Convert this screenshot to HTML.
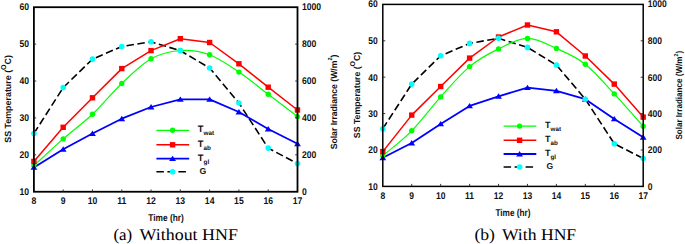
<!DOCTYPE html>
<html><head><meta charset="utf-8"><style>
html,body{margin:0;padding:0;background:#fff;}
body{width:685px;height:244px;overflow:hidden;}
svg{display:block;} text{text-rendering:geometricPrecision;}
.tk{font-family:"Liberation Sans",sans-serif;font-weight:bold;fill:#111;}
.ax{font-family:"Liberation Sans",sans-serif;font-weight:bold;fill:#111;}
.lg{font-family:"Liberation Sans",sans-serif;font-weight:bold;fill:#111;}
.cap{font-family:"Liberation Serif",serif;fill:#000;}
</style></head><body>
<svg width="685" height="244" viewBox="0 0 685 244">
<rect width="685" height="244" fill="#fff"/>
<path d="M33.90,133.50 L63.19,87.60 L92.48,59.10 L121.77,46.50 L151.06,41.80 L180.34,50.70 L209.63,68.00 L238.92,103.00 L268.21,148.10 L297.50,163.60" fill="none" stroke="#000" stroke-width="1.6" stroke-dasharray="7.5 3.5" stroke-linejoin="round"/>
<path d="M33.90,165.60 C38.78,161.15 53.43,147.47 63.19,138.90 C72.95,130.33 82.71,123.43 92.48,114.20 C102.24,104.97 112.00,92.73 121.77,83.50 C131.53,74.27 141.29,64.30 151.06,58.80 C160.82,53.30 170.58,51.18 180.34,50.50 C190.11,49.82 199.87,51.10 209.63,54.70 C219.40,58.30 229.16,65.50 238.92,72.10 C248.69,78.70 258.45,86.88 268.21,94.30 C277.97,101.72 292.62,112.88 297.50,116.60" fill="none" stroke="#00ff00" stroke-width="1.2"/>
<path d="M33.90,161.40 L63.19,127.30 L92.48,97.80 L121.77,68.60 L151.06,50.60 L180.34,38.70 L209.63,42.50 L238.92,63.80 L268.21,87.20 L297.50,110.00" fill="none" stroke="#ff0000" stroke-width="1.5" stroke-linejoin="round"/>
<path d="M33.90,167.40 L63.19,149.30 L92.48,133.50 L121.77,118.70 L151.06,107.00 L180.34,99.40 L209.63,99.40 L238.92,112.00 L268.21,129.00 L297.50,143.70" fill="none" stroke="#0000ff" stroke-width="1.8" stroke-linejoin="round"/>
<circle cx="33.90" cy="165.60" r="2.70" fill="#00ff00"/>
<circle cx="63.19" cy="138.90" r="2.70" fill="#00ff00"/>
<circle cx="92.48" cy="114.20" r="2.70" fill="#00ff00"/>
<circle cx="121.77" cy="83.50" r="2.70" fill="#00ff00"/>
<circle cx="151.06" cy="58.80" r="2.70" fill="#00ff00"/>
<circle cx="180.34" cy="50.50" r="2.70" fill="#00ff00"/>
<circle cx="209.63" cy="54.70" r="2.70" fill="#00ff00"/>
<circle cx="238.92" cy="72.10" r="2.70" fill="#00ff00"/>
<circle cx="268.21" cy="94.30" r="2.70" fill="#00ff00"/>
<circle cx="297.50" cy="116.60" r="2.70" fill="#00ff00"/>
<rect x="31.20" y="158.70" width="5.40" height="5.40" fill="#ff0000"/>
<rect x="60.49" y="124.60" width="5.40" height="5.40" fill="#ff0000"/>
<rect x="89.78" y="95.10" width="5.40" height="5.40" fill="#ff0000"/>
<rect x="119.07" y="65.90" width="5.40" height="5.40" fill="#ff0000"/>
<rect x="148.36" y="47.90" width="5.40" height="5.40" fill="#ff0000"/>
<rect x="177.64" y="36.00" width="5.40" height="5.40" fill="#ff0000"/>
<rect x="206.93" y="39.80" width="5.40" height="5.40" fill="#ff0000"/>
<rect x="236.22" y="61.10" width="5.40" height="5.40" fill="#ff0000"/>
<rect x="265.51" y="84.50" width="5.40" height="5.40" fill="#ff0000"/>
<rect x="294.80" y="107.30" width="5.40" height="5.40" fill="#ff0000"/>
<path d="M33.90,164.43 L37.30,169.83 L30.50,169.83Z" fill="#0000ff"/>
<path d="M63.19,146.33 L66.59,151.73 L59.79,151.73Z" fill="#0000ff"/>
<path d="M92.48,130.53 L95.88,135.93 L89.08,135.93Z" fill="#0000ff"/>
<path d="M121.77,115.73 L125.17,121.13 L118.37,121.13Z" fill="#0000ff"/>
<path d="M151.06,104.03 L154.46,109.43 L147.66,109.43Z" fill="#0000ff"/>
<path d="M180.34,96.43 L183.74,101.83 L176.94,101.83Z" fill="#0000ff"/>
<path d="M209.63,96.43 L213.03,101.83 L206.23,101.83Z" fill="#0000ff"/>
<path d="M238.92,109.03 L242.32,114.43 L235.52,114.43Z" fill="#0000ff"/>
<path d="M268.21,126.03 L271.61,131.43 L264.81,131.43Z" fill="#0000ff"/>
<path d="M297.50,140.73 L300.90,146.13 L294.10,146.13Z" fill="#0000ff"/>
<circle cx="33.90" cy="133.50" r="2.80" fill="#00ffff"/>
<circle cx="63.19" cy="87.60" r="2.80" fill="#00ffff"/>
<circle cx="92.48" cy="59.10" r="2.80" fill="#00ffff"/>
<circle cx="121.77" cy="46.50" r="2.80" fill="#00ffff"/>
<circle cx="151.06" cy="41.80" r="2.80" fill="#00ffff"/>
<circle cx="180.34" cy="50.70" r="2.80" fill="#00ffff"/>
<circle cx="209.63" cy="68.00" r="2.80" fill="#00ffff"/>
<circle cx="238.92" cy="103.00" r="2.80" fill="#00ffff"/>
<circle cx="268.21" cy="148.10" r="2.80" fill="#00ffff"/>
<circle cx="297.50" cy="163.60" r="2.80" fill="#00ffff"/>
<rect x="33.90" y="7.20" width="263.60" height="184.55" fill="none" stroke="#000" stroke-width="1.8"/>
<line x1="63.19" y1="191.75" x2="63.19" y2="189.45" stroke="#222" stroke-width="0.9"/>
<line x1="92.48" y1="191.75" x2="92.48" y2="189.45" stroke="#222" stroke-width="0.9"/>
<line x1="121.77" y1="191.75" x2="121.77" y2="189.45" stroke="#222" stroke-width="0.9"/>
<line x1="151.06" y1="191.75" x2="151.06" y2="189.45" stroke="#222" stroke-width="0.9"/>
<line x1="180.34" y1="191.75" x2="180.34" y2="189.45" stroke="#222" stroke-width="0.9"/>
<line x1="209.63" y1="191.75" x2="209.63" y2="189.45" stroke="#222" stroke-width="0.9"/>
<line x1="238.92" y1="191.75" x2="238.92" y2="189.45" stroke="#222" stroke-width="0.9"/>
<line x1="268.21" y1="191.75" x2="268.21" y2="189.45" stroke="#222" stroke-width="0.9"/>
<line x1="33.90" y1="154.84" x2="36.20" y2="154.84" stroke="#222" stroke-width="0.9"/>
<line x1="297.50" y1="154.84" x2="295.20" y2="154.84" stroke="#222" stroke-width="0.9"/>
<line x1="33.90" y1="117.93" x2="36.20" y2="117.93" stroke="#222" stroke-width="0.9"/>
<line x1="297.50" y1="117.93" x2="295.20" y2="117.93" stroke="#222" stroke-width="0.9"/>
<line x1="33.90" y1="81.02" x2="36.20" y2="81.02" stroke="#222" stroke-width="0.9"/>
<line x1="297.50" y1="81.02" x2="295.20" y2="81.02" stroke="#222" stroke-width="0.9"/>
<line x1="33.90" y1="44.11" x2="36.20" y2="44.11" stroke="#222" stroke-width="0.9"/>
<line x1="297.50" y1="44.11" x2="295.20" y2="44.11" stroke="#222" stroke-width="0.9"/>
<text transform="translate(33.90,203.90) scale(0.89,1)" text-anchor="middle" class="tk" font-size="9.7">8</text>
<text transform="translate(63.19,203.90) scale(0.89,1)" text-anchor="middle" class="tk" font-size="9.7">9</text>
<text transform="translate(92.48,203.90) scale(0.89,1)" text-anchor="middle" class="tk" font-size="9.7">10</text>
<text transform="translate(121.77,203.90) scale(0.89,1)" text-anchor="middle" class="tk" font-size="9.7">11</text>
<text transform="translate(151.06,203.90) scale(0.89,1)" text-anchor="middle" class="tk" font-size="9.7">12</text>
<text transform="translate(180.34,203.90) scale(0.89,1)" text-anchor="middle" class="tk" font-size="9.7">13</text>
<text transform="translate(209.63,203.90) scale(0.89,1)" text-anchor="middle" class="tk" font-size="9.7">14</text>
<text transform="translate(238.92,203.90) scale(0.89,1)" text-anchor="middle" class="tk" font-size="9.7">15</text>
<text transform="translate(268.21,203.90) scale(0.89,1)" text-anchor="middle" class="tk" font-size="9.7">16</text>
<text transform="translate(297.50,203.90) scale(0.89,1)" text-anchor="middle" class="tk" font-size="9.7">17</text>
<text transform="translate(29.10,195.05) scale(0.89,1)" text-anchor="end" class="tk" font-size="9.7">10</text>
<text transform="translate(29.10,158.14) scale(0.89,1)" text-anchor="end" class="tk" font-size="9.7">20</text>
<text transform="translate(29.10,121.23) scale(0.89,1)" text-anchor="end" class="tk" font-size="9.7">30</text>
<text transform="translate(29.10,84.32) scale(0.89,1)" text-anchor="end" class="tk" font-size="9.7">40</text>
<text transform="translate(29.10,47.41) scale(0.89,1)" text-anchor="end" class="tk" font-size="9.7">50</text>
<text transform="translate(29.10,10.10) scale(0.89,1)" text-anchor="end" class="tk" font-size="9.7">60</text>
<text transform="translate(301.90,195.05) scale(0.89,1)" text-anchor="start" class="tk" font-size="9.7">0</text>
<text transform="translate(301.90,158.14) scale(0.89,1)" text-anchor="start" class="tk" font-size="9.7">200</text>
<text transform="translate(301.90,121.23) scale(0.89,1)" text-anchor="start" class="tk" font-size="9.7">400</text>
<text transform="translate(301.90,84.32) scale(0.89,1)" text-anchor="start" class="tk" font-size="9.7">600</text>
<text transform="translate(301.90,47.41) scale(0.89,1)" text-anchor="start" class="tk" font-size="9.7">800</text>
<text transform="translate(301.90,9.50) scale(0.89,1)" text-anchor="start" class="tk" font-size="9.7">1000</text>
<text transform="translate(10.70,142.80) rotate(-90)" class="ax" font-size="9.0" textLength="87.80" lengthAdjust="spacingAndGlyphs">SS Temperature (<tspan font-size="7.20" dy="-5.1">O</tspan><tspan dy="5.1">C)</tspan></text>
<text transform="translate(337.10,149.30) rotate(-90)" class="ax" font-size="9.0" textLength="94.70" lengthAdjust="spacingAndGlyphs">Solar Irradiance (W/m<tspan font-size="5.85" dy="-5.4">2</tspan><tspan dy="5.4">)</tspan></text>
<text x="148.30" y="221.20" class="ax" font-size="9.8" textLength="35.50" lengthAdjust="spacingAndGlyphs">Time (hr)</text>
<line x1="156.40" y1="130.30" x2="189.20" y2="130.30" stroke="#00ff00" stroke-width="1.2"/>
<circle cx="172.60" cy="130.30" r="2.70" fill="#00ff00"/>
<text x="197.80" y="132.30" class="lg" font-size="9.3">T<tspan font-size="6.4" dy="3.0">wat</tspan></text>
<line x1="156.40" y1="144.80" x2="189.20" y2="144.80" stroke="#ff0000" stroke-width="1.5"/>
<rect x="169.90" y="142.10" width="5.40" height="5.40" fill="#ff0000"/>
<text x="197.80" y="146.80" class="lg" font-size="9.3">T<tspan font-size="6.4" dy="3.0">ab</tspan></text>
<line x1="156.40" y1="158.60" x2="189.20" y2="158.60" stroke="#0000ff" stroke-width="1.8"/>
<path d="M172.60,155.63 L176.00,161.03 L169.20,161.03Z" fill="#0000ff"/>
<text x="197.80" y="160.60" class="lg" font-size="9.3">T<tspan font-size="6.4" dy="3.0">gl</tspan></text>
<line x1="156.40" y1="171.80" x2="186.20" y2="171.80" stroke="#000" stroke-width="1.6" stroke-dasharray="7.5 3.5"/>
<circle cx="172.60" cy="171.80" r="2.80" fill="#00ffff"/>
<text x="199.60" y="174.00" class="lg" font-size="8.7">G</text>
<text x="113.40" y="239.80" class="cap" font-size="16.5" textLength="18.80" lengthAdjust="spacingAndGlyphs">(a)</text>
<text x="139.60" y="239.80" class="cap" font-size="16.5" textLength="98.30" lengthAdjust="spacingAndGlyphs">Without HNF</text>
<path d="M382.80,128.70 L411.73,84.10 L440.67,55.80 L469.60,43.40 L498.53,38.30 L527.47,47.40 L556.40,65.00 L585.33,99.20 L614.27,143.70 L643.20,158.50" fill="none" stroke="#000" stroke-width="1.6" stroke-dasharray="7.5 3.5" stroke-linejoin="round"/>
<path d="M382.80,155.70 C387.62,151.55 402.09,140.60 411.73,130.80 C421.38,121.00 431.02,107.60 440.67,96.90 C450.31,86.20 459.96,74.60 469.60,66.60 C479.24,58.60 488.89,53.60 498.53,48.90 C508.18,44.20 517.82,38.48 527.47,38.40 C537.11,38.32 546.76,44.10 556.40,48.40 C566.04,52.70 575.69,56.62 585.33,64.20 C594.98,71.78 604.62,83.55 614.27,93.90 C623.91,104.25 638.38,120.90 643.20,126.30" fill="none" stroke="#00ff00" stroke-width="1.2"/>
<path d="M382.80,151.60 L411.73,115.10 L440.67,86.50 L469.60,58.10 L498.53,37.00 L527.47,25.00 L556.40,31.80 L585.33,56.00 L614.27,84.10 L643.20,117.10" fill="none" stroke="#ff0000" stroke-width="1.5" stroke-linejoin="round"/>
<path d="M382.80,157.80 L411.73,143.00 L440.67,123.90 L469.60,105.90 L498.53,96.30 L527.47,87.60 L556.40,90.80 L585.33,99.20 L614.27,118.90 L643.20,137.30" fill="none" stroke="#0000ff" stroke-width="1.8" stroke-linejoin="round"/>
<circle cx="382.80" cy="155.70" r="2.70" fill="#00ff00"/>
<circle cx="411.73" cy="130.80" r="2.70" fill="#00ff00"/>
<circle cx="440.67" cy="96.90" r="2.70" fill="#00ff00"/>
<circle cx="469.60" cy="66.60" r="2.70" fill="#00ff00"/>
<circle cx="498.53" cy="48.90" r="2.70" fill="#00ff00"/>
<circle cx="527.47" cy="38.40" r="2.70" fill="#00ff00"/>
<circle cx="556.40" cy="48.40" r="2.70" fill="#00ff00"/>
<circle cx="585.33" cy="64.20" r="2.70" fill="#00ff00"/>
<circle cx="614.27" cy="93.90" r="2.70" fill="#00ff00"/>
<circle cx="643.20" cy="126.30" r="2.70" fill="#00ff00"/>
<rect x="380.10" y="148.90" width="5.40" height="5.40" fill="#ff0000"/>
<rect x="409.03" y="112.40" width="5.40" height="5.40" fill="#ff0000"/>
<rect x="437.97" y="83.80" width="5.40" height="5.40" fill="#ff0000"/>
<rect x="466.90" y="55.40" width="5.40" height="5.40" fill="#ff0000"/>
<rect x="495.83" y="34.30" width="5.40" height="5.40" fill="#ff0000"/>
<rect x="524.77" y="22.30" width="5.40" height="5.40" fill="#ff0000"/>
<rect x="553.70" y="29.10" width="5.40" height="5.40" fill="#ff0000"/>
<rect x="582.63" y="53.30" width="5.40" height="5.40" fill="#ff0000"/>
<rect x="611.57" y="81.40" width="5.40" height="5.40" fill="#ff0000"/>
<rect x="640.50" y="114.40" width="5.40" height="5.40" fill="#ff0000"/>
<path d="M382.80,154.83 L386.20,160.23 L379.40,160.23Z" fill="#0000ff"/>
<path d="M411.73,140.03 L415.13,145.43 L408.33,145.43Z" fill="#0000ff"/>
<path d="M440.67,120.93 L444.07,126.33 L437.27,126.33Z" fill="#0000ff"/>
<path d="M469.60,102.93 L473.00,108.33 L466.20,108.33Z" fill="#0000ff"/>
<path d="M498.53,93.33 L501.93,98.73 L495.13,98.73Z" fill="#0000ff"/>
<path d="M527.47,84.63 L530.87,90.03 L524.07,90.03Z" fill="#0000ff"/>
<path d="M556.40,87.83 L559.80,93.23 L553.00,93.23Z" fill="#0000ff"/>
<path d="M585.33,96.23 L588.73,101.63 L581.93,101.63Z" fill="#0000ff"/>
<path d="M614.27,115.93 L617.67,121.33 L610.87,121.33Z" fill="#0000ff"/>
<path d="M643.20,134.33 L646.60,139.73 L639.80,139.73Z" fill="#0000ff"/>
<circle cx="382.80" cy="128.70" r="2.80" fill="#00ffff"/>
<circle cx="411.73" cy="84.10" r="2.80" fill="#00ffff"/>
<circle cx="440.67" cy="55.80" r="2.80" fill="#00ffff"/>
<circle cx="469.60" cy="43.40" r="2.80" fill="#00ffff"/>
<circle cx="498.53" cy="38.30" r="2.80" fill="#00ffff"/>
<circle cx="527.47" cy="47.40" r="2.80" fill="#00ffff"/>
<circle cx="556.40" cy="65.00" r="2.80" fill="#00ffff"/>
<circle cx="585.33" cy="99.20" r="2.80" fill="#00ffff"/>
<circle cx="614.27" cy="143.70" r="2.80" fill="#00ffff"/>
<circle cx="643.20" cy="158.50" r="2.80" fill="#00ffff"/>
<rect x="382.80" y="4.40" width="260.40" height="182.00" fill="none" stroke="#000" stroke-width="1.5"/>
<line x1="411.73" y1="186.40" x2="411.73" y2="183.90" stroke="#222" stroke-width="0.9"/>
<line x1="440.67" y1="186.40" x2="440.67" y2="183.90" stroke="#222" stroke-width="0.9"/>
<line x1="469.60" y1="186.40" x2="469.60" y2="183.90" stroke="#222" stroke-width="0.9"/>
<line x1="498.53" y1="186.40" x2="498.53" y2="183.90" stroke="#222" stroke-width="0.9"/>
<line x1="527.47" y1="186.40" x2="527.47" y2="183.90" stroke="#222" stroke-width="0.9"/>
<line x1="556.40" y1="186.40" x2="556.40" y2="183.90" stroke="#222" stroke-width="0.9"/>
<line x1="585.33" y1="186.40" x2="585.33" y2="183.90" stroke="#222" stroke-width="0.9"/>
<line x1="614.27" y1="186.40" x2="614.27" y2="183.90" stroke="#222" stroke-width="0.9"/>
<line x1="382.80" y1="150.00" x2="385.30" y2="150.00" stroke="#222" stroke-width="0.9"/>
<line x1="643.20" y1="150.00" x2="640.70" y2="150.00" stroke="#222" stroke-width="0.9"/>
<line x1="382.80" y1="113.60" x2="385.30" y2="113.60" stroke="#222" stroke-width="0.9"/>
<line x1="643.20" y1="113.60" x2="640.70" y2="113.60" stroke="#222" stroke-width="0.9"/>
<line x1="382.80" y1="77.20" x2="385.30" y2="77.20" stroke="#222" stroke-width="0.9"/>
<line x1="643.20" y1="77.20" x2="640.70" y2="77.20" stroke="#222" stroke-width="0.9"/>
<line x1="382.80" y1="40.80" x2="385.30" y2="40.80" stroke="#222" stroke-width="0.9"/>
<line x1="643.20" y1="40.80" x2="640.70" y2="40.80" stroke="#222" stroke-width="0.9"/>
<text transform="translate(382.80,199.00) scale(0.88,1)" text-anchor="middle" class="tk" font-size="9.7">8</text>
<text transform="translate(411.73,199.00) scale(0.88,1)" text-anchor="middle" class="tk" font-size="9.7">9</text>
<text transform="translate(440.67,199.00) scale(0.88,1)" text-anchor="middle" class="tk" font-size="9.7">10</text>
<text transform="translate(469.60,199.00) scale(0.88,1)" text-anchor="middle" class="tk" font-size="9.7">11</text>
<text transform="translate(498.53,199.00) scale(0.88,1)" text-anchor="middle" class="tk" font-size="9.7">12</text>
<text transform="translate(527.47,199.00) scale(0.88,1)" text-anchor="middle" class="tk" font-size="9.7">13</text>
<text transform="translate(556.40,199.00) scale(0.88,1)" text-anchor="middle" class="tk" font-size="9.7">14</text>
<text transform="translate(585.33,199.00) scale(0.88,1)" text-anchor="middle" class="tk" font-size="9.7">15</text>
<text transform="translate(614.27,199.00) scale(0.88,1)" text-anchor="middle" class="tk" font-size="9.7">16</text>
<text transform="translate(643.20,199.00) scale(0.88,1)" text-anchor="middle" class="tk" font-size="9.7">17</text>
<text transform="translate(377.70,189.80) scale(0.88,1)" text-anchor="end" class="tk" font-size="9.7">10</text>
<text transform="translate(377.70,153.40) scale(0.88,1)" text-anchor="end" class="tk" font-size="9.7">20</text>
<text transform="translate(377.70,117.00) scale(0.88,1)" text-anchor="end" class="tk" font-size="9.7">30</text>
<text transform="translate(377.70,80.60) scale(0.88,1)" text-anchor="end" class="tk" font-size="9.7">40</text>
<text transform="translate(377.70,44.20) scale(0.88,1)" text-anchor="end" class="tk" font-size="9.7">50</text>
<text transform="translate(377.70,7.00) scale(0.88,1)" text-anchor="end" class="tk" font-size="9.7">60</text>
<text transform="translate(647.70,189.80) scale(0.88,1)" text-anchor="start" class="tk" font-size="9.7">0</text>
<text transform="translate(647.70,153.40) scale(0.88,1)" text-anchor="start" class="tk" font-size="9.7">200</text>
<text transform="translate(647.70,117.00) scale(0.88,1)" text-anchor="start" class="tk" font-size="9.7">400</text>
<text transform="translate(647.70,80.60) scale(0.88,1)" text-anchor="start" class="tk" font-size="9.7">600</text>
<text transform="translate(647.70,44.20) scale(0.88,1)" text-anchor="start" class="tk" font-size="9.7">800</text>
<text transform="translate(647.70,7.00) scale(0.88,1)" text-anchor="start" class="tk" font-size="9.7">1000</text>
<text transform="translate(360.40,138.20) rotate(-90)" class="ax" font-size="8.8" textLength="86.50" lengthAdjust="spacingAndGlyphs">SS Temperature (<tspan font-size="7.04" dy="-5.1">O</tspan><tspan dy="5.1">C)</tspan></text>
<text transform="translate(681.60,139.60) rotate(-90)" class="ax" font-size="8.8" textLength="88.70" lengthAdjust="spacingAndGlyphs">Solar Irradiance (W/m<tspan font-size="5.72" dy="-4.0">2</tspan><tspan dy="4.0">)</tspan></text>
<text x="495.40" y="215.60" class="ax" font-size="9.9" textLength="35.10" lengthAdjust="spacingAndGlyphs">Time (hr)</text>
<line x1="503.60" y1="126.10" x2="536.30" y2="126.10" stroke="#00ff00" stroke-width="1.2"/>
<circle cx="519.60" cy="126.10" r="2.70" fill="#00ff00"/>
<text x="545.00" y="128.00" class="lg" font-size="9.0">T<tspan font-size="6.3" dy="3.0">wat</tspan></text>
<line x1="503.60" y1="140.30" x2="536.30" y2="140.30" stroke="#ff0000" stroke-width="1.5"/>
<rect x="516.90" y="137.60" width="5.40" height="5.40" fill="#ff0000"/>
<text x="545.00" y="142.20" class="lg" font-size="9.0">T<tspan font-size="6.3" dy="3.0">ab</tspan></text>
<line x1="503.60" y1="154.00" x2="536.30" y2="154.00" stroke="#0000ff" stroke-width="1.8"/>
<path d="M519.60,151.03 L523.00,156.43 L516.20,156.43Z" fill="#0000ff"/>
<text x="545.00" y="155.90" class="lg" font-size="9.0">T<tspan font-size="6.3" dy="3.0">gl</tspan></text>
<line x1="503.60" y1="167.00" x2="533.30" y2="167.00" stroke="#000" stroke-width="1.6" stroke-dasharray="7.5 3.5"/>
<circle cx="519.60" cy="167.00" r="2.80" fill="#00ffff"/>
<text x="546.60" y="169.20" class="lg" font-size="8.5">G</text>
<text x="474.40" y="239.80" class="cap" font-size="16.5" textLength="20.60" lengthAdjust="spacingAndGlyphs">(b)</text>
<text x="501.90" y="239.80" class="cap" font-size="16.5" textLength="74.30" lengthAdjust="spacingAndGlyphs">With HNF</text>
</svg>
</body></html>
